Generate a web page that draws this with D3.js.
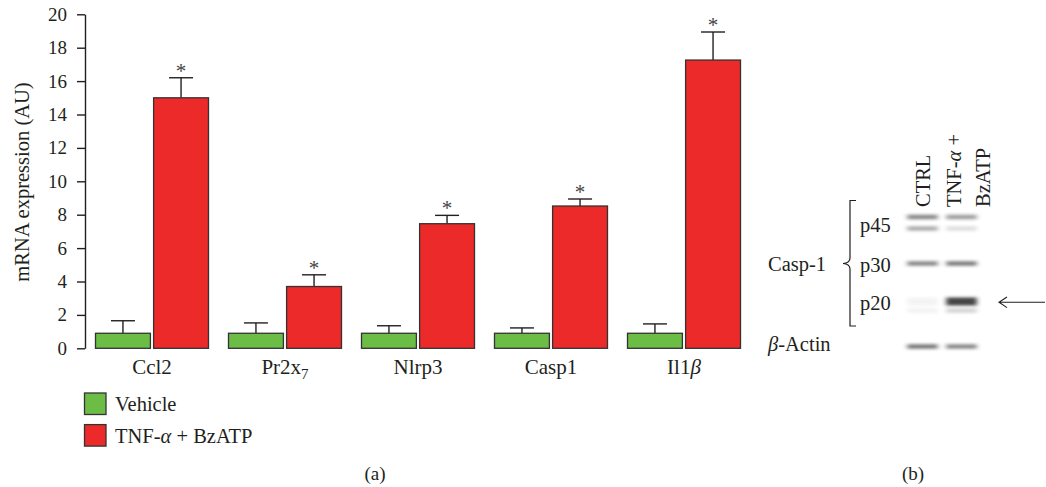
<!DOCTYPE html>
<html>
<head>
<meta charset="utf-8">
<script src="https://cdn.jsdelivr.net/npm/d3@7"></script>
<style>
  body { margin: 0; background: #fff; }
  svg { display: block; font-family: "Liberation Serif", "DejaVu Serif", serif; fill: #231f20; }
</style>
</head>
<body>
<div id="chart"></div>
<script>
"use strict";

// panel (a): qPCR values
const categories = ["Ccl2", "Pr2x7", "Nlrp3", "Casp1", "Il1b"];
const seriesNames = ["Vehicle", "TNF-α + BzATP"];
const vehicleMean = [0.9, 0.9, 0.9, 0.9, 0.9];
const vehicleErr = [0.75, 0.62, 0.45, 0.32, 0.56];
const treatedMean = [15.0, 3.7, 7.46, 8.52, 17.26];
const treatedErr = [1.2, 0.7, 0.5, 0.42, 1.68];
const yTicks = [0, 2, 4, 6, 8, 10, 12, 14, 16, 18, 20];

// panel (b): western blot lanes and band intensities (0..1)
const lanes = ["CTRL", "TNF"];
const bandRows = ["p45a", "p45b", "p30", "p20", "p20b", "actin"];
const ctrlBands = [0.55, 0.38, 0.55, 0.05, 0.06, 0.62];
const treatedBands = [0.45, 0.15, 0.6, 0.88, 0.2, 0.55];
const blotLabels = ["p45", "p30", "p20"];

const colors = ["#6cbd45", "#ec2a2a"];
const ink = "#231f20";

let svg = d3.select("#chart")
  .append("svg")
  .attr("width", 1046)
  .attr("height", 487);

let defs = svg.append("defs");
defs.append("filter")
  .attr("id", "blur")
  .attr("x", "-30%").attr("y", "-200%")
  .attr("width", "160%").attr("height", "500%")
  .append("feGaussianBlur")
  .attr("stdDeviation", "2.5 1.4");

let y = d3.scaleLinear()
  .domain([0, 20])
  .range([348.3, 14.3]);

let x = d3.scaleBand()
  .domain(categories)
  .range([85.5, 750.5]);

let xInner = d3.scaleBand()
  .domain(seriesNames)
  .range([10, 123])
  .paddingInner(0.055);

// y axis
let axis = svg.append("g")
  .attr("transform", "translate(85,0)")
  .call(d3.axisLeft(y).tickValues(yTicks).tickSize(8).tickSizeOuter(0).tickPadding(10));

axis.select(".domain").attr("stroke", ink).attr("stroke-width", 1.4);
axis.selectAll(".tick line").attr("stroke", ink).attr("stroke-width", 1.4);
axis.selectAll(".tick text")
  .attr("fill", ink)
  .style("font-family", "Liberation Serif")
  .style("font-size", "19px");

svg.append("text")
  .attr("transform", "translate(29,182) rotate(-90)")
  .attr("text-anchor", "middle")
  .style("font-size", "20.5px")
  .text("mRNA expression (AU)");

// bars
let rows = categories.map((c, i) => ({
  cat: c,
  values: [
    { name: seriesNames[0], mean: vehicleMean[i], err: vehicleErr[i], star: false },
    { name: seriesNames[1], mean: treatedMean[i], err: treatedErr[i], star: true }
  ]
}));

let groups = svg.selectAll(".group")
  .data(rows)
  .join("g")
  .attr("transform", d => "translate(" + x(d.cat) + ",0)");

let bars = groups.selectAll(".bar")
  .data(d => d.values)
  .join("g");

bars.append("line")
  .attr("x1", d => xInner(d.name) + xInner.bandwidth() / 2)
  .attr("x2", d => xInner(d.name) + xInner.bandwidth() / 2)
  .attr("y1", d => y(d.mean))
  .attr("y2", d => y(d.mean + d.err))
  .attr("stroke", ink)
  .attr("stroke-width", 1.4);

bars.append("line")
  .attr("x1", d => xInner(d.name) + xInner.bandwidth() / 2 - 12)
  .attr("x2", d => xInner(d.name) + xInner.bandwidth() / 2 + 12)
  .attr("y1", d => y(d.mean + d.err))
  .attr("y2", d => y(d.mean + d.err))
  .attr("stroke", ink)
  .attr("stroke-width", 1.4);

bars.append("rect")
  .attr("x", d => xInner(d.name))
  .attr("y", d => y(d.mean))
  .attr("width", xInner.bandwidth())
  .attr("height", d => y(0) - y(d.mean))
  .attr("fill", (d, i) => colors[i])
  .attr("stroke", "#333")
  .attr("stroke-width", 1.3);

bars.filter(d => d.star)
  .append("text")
  .attr("x", d => xInner(d.name) + xInner.bandwidth() / 2)
  .attr("y", d => y(d.mean + d.err))
  .attr("text-anchor", "middle")
  .style("font-size", "21px")
  .attr("fill", "#444")
  .text("*");

// category labels (with subscript / italic beta)
let catLabels = groups.append("text")
  .attr("x", x.bandwidth() / 2)
  .attr("y", 374)
  .attr("text-anchor", "middle")
  .style("font-size", "21px");

catLabels.each(function (d) {
  let t = d3.select(this);
  if (d.cat === "Pr2x7") {
    t.append("tspan").text("Pr2x");
    t.append("tspan").attr("dy", 5).style("font-size", "15px").text("7");
  } else if (d.cat === "Il1b") {
    t.append("tspan").text("Il1");
    t.append("tspan").style("font-style", "italic").text("β");
  } else {
    t.text(d.cat);
  }
});

// legend
let legend = svg.selectAll(".legend")
  .data(seriesNames)
  .join("g")
  .attr("transform", (d, i) => "translate(84.5," + (393 + i * 31.6) + ")");

legend.append("rect")
  .attr("width", 21.5)
  .attr("height", 21.5)
  .attr("fill", (d, i) => colors[i])
  .attr("stroke", "#333")
  .attr("stroke-width", 1.3);

legend.append("text")
  .attr("x", 30.5)
  .attr("y", 11)
  .attr("dy", "0.35em")
  .style("font-size", "20.5px")
  .each(function (d, i) {
    let t = d3.select(this);
    if (i === 0) {
      t.text(d);
    } else {
      t.append("tspan").text("TNF-");
      t.append("tspan").style("font-style", "italic").text("α");
      t.append("tspan").text(" + BzATP");
    }
  });

svg.append("text")
  .attr("x", 375).attr("y", 480)
  .attr("text-anchor", "middle")
  .style("font-size", "19px")
  .text("(a)");

// panel (b)
let lane = d3.scaleBand()
  .domain(lanes)
  .range([903, 981])
  .paddingInner(0.22)
  .paddingOuter(0.11);

let rowY = d3.scaleOrdinal()
  .domain(bandRows)
  .range([217, 228.5, 263.5, 301.5, 310.5, 346.5]);

let blot = svg.append("g");
let bandData = [];
bandRows.forEach((r, i) => {
  bandData.push({ lane: lanes[0], row: r, v: ctrlBands[i] });
  bandData.push({ lane: lanes[1], row: r, v: treatedBands[i] });
});

blot.selectAll("rect")
  .data(bandData)
  .join("rect")
  .attr("x", d => lane(d.lane))
  .attr("y", d => rowY(d.row) - (d.row === "p20" ? 4 : 2.3))
  .attr("width", lane.bandwidth())
  .attr("height", d => d.row === "p20" ? 8 : 4.6)
  .attr("fill", "#2a2a2a")
  .attr("opacity", d => d.v)
  .attr("filter", "url(#blur)");

let laneText = [
  { x: 929.5, lines: ["CTRL"] },
  { x: 960.5, lines: ["TNF-", "α", " +"] },
  { x: 990, lines: ["BzATP"] }
];
laneText.forEach(l => {
  let t = svg.append("text")
    .attr("transform", "translate(" + l.x + ",207) rotate(-90)")
    .style("font-size", "20.5px");
  l.lines.forEach(s => {
    let ts = t.append("tspan").text(s);
    if (s === "α") ts.style("font-style", "italic");
  });
});

svg.selectAll(".blot-label")
  .data(blotLabels)
  .join("text")
  .attr("x", 860)
  .attr("y", d => rowY(d === "p45" ? "p45a" : d) + (d === "p45" ? 8 : 1.5))
  .attr("dy", "0.35em")
  .style("font-size", "20.5px")
  .text(d => d);

svg.append("path")
  .attr("d", "M856,200.5 L850,200.5 L850,258 Q850,263 843,263.5 Q850,264 850,269 L850,326 L856,326")
  .attr("fill", "none")
  .attr("stroke", ink)
  .attr("stroke-width", 1.2);

svg.append("text")
  .attr("x", 768).attr("y", 263.5)
  .attr("dy", "0.35em")
  .style("font-size", "20.5px")
  .text("Casp-1");

let actin = svg.append("text")
  .attr("x", 768).attr("y", 343.5)
  .attr("dy", "0.35em")
  .style("font-size", "20.5px");
actin.append("tspan").style("font-style", "italic").text("β");
actin.append("tspan").text("-Actin");

svg.append("path")
  .attr("d", "M1045,302.3 L999,302.3 M1007,297 L999,302.3 L1007,307.6")
  .attr("fill", "none")
  .attr("stroke", ink)
  .attr("stroke-width", 1.1);

svg.append("text")
  .attr("x", 913).attr("y", 480)
  .attr("text-anchor", "middle")
  .style("font-size", "19px")
  .text("(b)");
</script>
</body>
</html>
